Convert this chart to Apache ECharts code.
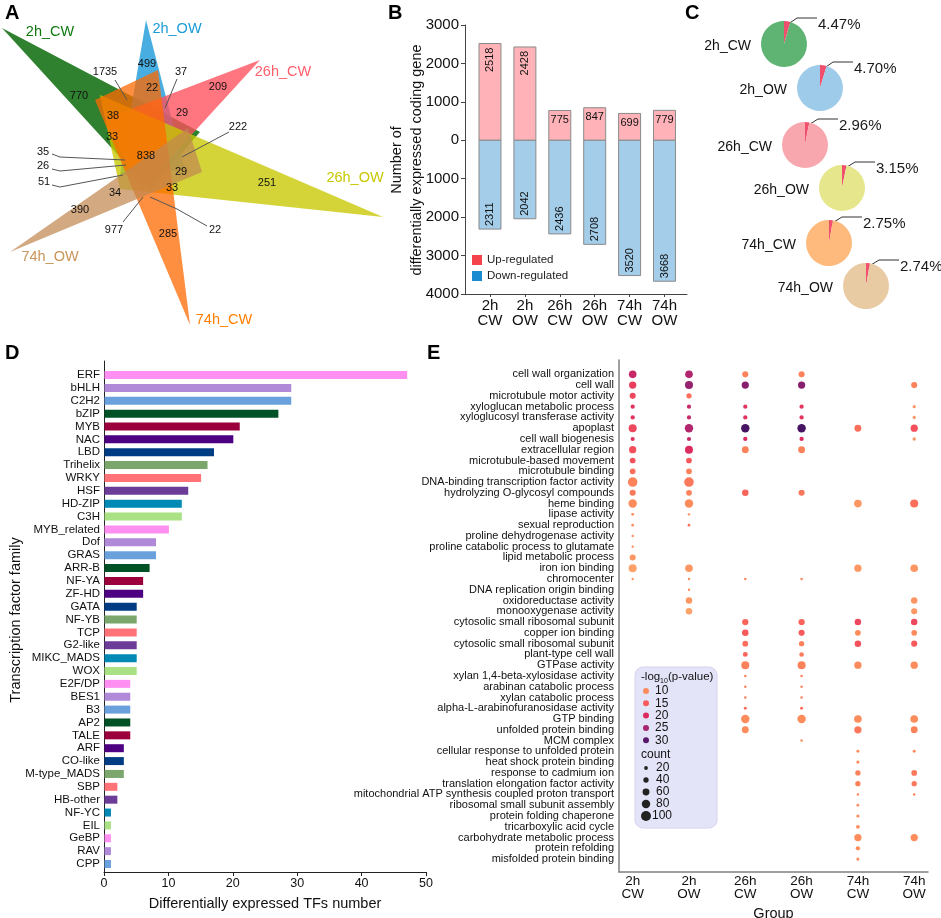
<!DOCTYPE html>
<html><head><meta charset="utf-8">
<script src="https://cdn.jsdelivr.net/npm/echarts@6/dist/echarts.min.js"></script>
<style>html,body{margin:0;padding:0;background:#fff}#c{width:941px;height:918px}</style>
</head><body><div id="c"></div>
<script>
const FONT = '"Liberation Sans", Arial, Helvetica, sans-serif';

// ---------- Panel A: six-set Venn ----------
const vennSets = ['2h_CW', '2h_OW', '26h_CW', '26h_OW', '74h_CW', '74h_OW'];
const vennCounts = [770, 499, 1735, 37, 22, 209, 38, 29, 222, 33, 838, 35, 26, 51, 29, 33, 251, 34, 390, 977, 22, 285];

// ---------- Panel B ----------
const barCategories = ['2h\nCW', '2h\nOW', '26h\nCW', '26h\nOW', '74h\nCW', '74h\nOW'];
const upRegulated = [2518, 2428, 775, 847, 699, 779];
const downRegulated = [2311, 2042, 2436, 2708, 3520, 3668];

// ---------- Panel C ----------
const pieGroups = ['2h_CW', '2h_OW', '26h_CW', '26h_OW', '74h_CW', '74h_OW'];
const pieTFPercent = [4.47, 4.70, 2.96, 3.15, 2.75, 2.74];

// ---------- Panel D ----------
const tfFamilies = ['ERF','bHLH','C2H2','bZIP','MYB','NAC','LBD','Trihelix','WRKY','HSF','HD-ZIP','C3H','MYB_related','Dof','GRAS','ARR-B','NF-YA','ZF-HD','GATA','NF-YB','TCP','G2-like','MIKC_MADS','WOX','E2F/DP','BES1','B3','AP2','TALE','ARF','CO-like','M-type_MADS','SBP','HB-other','NF-YC','EIL','GeBP','RAV','CPP'];
const tfCounts = [47,29,29,27,21,20,17,16,15,13,12,12,10,8,8,7,6,6,5,5,5,5,5,5,4,4,4,4,4,3,3,3,2,2,1,1,1,1,1];

// ---------- Panel E ----------
const goGroups = ['2h\nCW', '2h\nOW', '26h\nCW', '26h\nOW', '74h\nCW', '74h\nOW'];
const goTerms = ['cell wall organization','cell wall','microtubule motor activity','xyloglucan metabolic process','xyloglucosyl transferase activity','apoplast','cell wall biogenesis','extracellular region','microtubule-based movement','microtubule binding','DNA-binding transcription factor activity','hydrolyzing O-glycosyl compounds','heme binding','lipase activity','sexual reproduction','proline dehydrogenase activity','proline catabolic process to glutamate','lipid metabolic process','iron ion binding','chromocenter','DNA replication origin binding','oxidoreductase activity','monooxygenase activity','cytosolic small ribosomal subunit','copper ion binding','cytosolic small ribosomal subunit','plant-type cell wall','GTPase activity','xylan 1,4-beta-xylosidase activity','arabinan catabolic process','xylan catabolic process','alpha-L-arabinofuranosidase activity','GTP binding','unfolded protein binding','MCM complex','cellular response to unfolded protein','heat shock protein binding','response to cadmium ion','translation elongation factor activity','mitochondrial ATP synthesis coupled proton transport','ribosomal small subunit assembly','protein folding chaperone','tricarboxylic acid cycle','carbohydrate metabolic process','protein refolding','misfolded protein binding'];
// [term index, -log10(p), count]
const go2hCW = [[0,22,70],[1,18,65],[2,17,50],[3,19,27],[4,19,27],[5,17,75],[6,19,25],[7,16,65],[8,16,45],[9,13,45],[10,11,95],[11,12,50],[12,10,80],[13,10,8],[14,10,6],[15,10,2],[16,10,2],[17,9,50],[18,8,75],[19,9,2]];
const go2hOW = [[0,24,70],[1,26,75],[2,13,40],[3,22,25],[4,22,25],[5,24,80],[6,22,25],[7,20,75],[8,15,45],[9,11,45],[10,12,95],[11,11,45],[12,10,80],[13,10,3],[14,13,6],[18,9,70],[19,10,3],[20,10,2],[21,9,55],[22,8,55]];
const go26hCW = [[0,11,50],[1,27,65],[3,19,27],[4,19,27],[5,32,80],[6,20,27],[7,11,60],[11,14,55],[19,11,3],[23,14,53],[24,15,55],[25,13,45],[26,14,35],[27,11,75],[28,11,4],[29,11,4],[30,11,4],[31,13,10],[32,10,80],[33,10,60]];
const go26hOW = [[0,11,50],[1,27,65],[3,19,27],[4,19,27],[5,32,80],[6,20,27],[7,11,60],[11,12,50],[19,11,3],[23,14,53],[24,15,50],[25,11,40],[26,12,30],[27,11,75],[28,11,4],[29,11,4],[30,11,4],[31,13,10],[32,10,80],[34,10,3]];
const go74hCW = [[5,13,60],[12,9,70],[18,9,65],[23,17,55],[24,10,45],[25,16,55],[27,10,65],[32,10,70],[33,12,65],[35,10,10],[36,10,13],[37,11,40],[38,11,40],[39,10,4],[40,10,8],[41,10,12],[42,10,20],[43,10,65],[44,10,27],[45,10,12]];
const go74hOW = [[1,11,50],[3,9,12],[4,9,12],[5,16,65],[6,9,15],[12,13,75],[18,9,70],[21,9,55],[22,9,50],[23,17,55],[24,10,45],[25,15,50],[27,10,65],[32,10,70],[33,11,60],[35,10,10],[37,12,45],[38,12,40],[39,11,4],[43,10,65]];
const goColumns = [go2hCW, go2hOW, go26hCW, go26hOW, go74hCW, go74hOW];
const pLegendValues = [10, 15, 20, 25, 30];
const countLegendValues = [20, 40, 60, 80, 100];

// ---------- layout / style (not data) ----------
const vennColors = ['#0a6a0a', '#1a98d8', '#ff4f5c', '#c8c800', '#ff6a00', '#c08850'];
const vennOpacity = [0.85, 0.8, 0.78, 0.78, 0.75, 0.72];
const vennTextColors = ['#0e7a0e', '#1a9bd7', '#ff5f6a', '#c8c800', '#ff7f00', '#c8955a'];
const vennTriangles = [
  [[2,28],[200,132],[150,190]],
  [[146,20],[120,175],[185,170]],
  [[260,60],[105,119],[141,190]],
  [[383,217],[100,95],[120,189]],
  [[190,325],[95,100],[158,70]],
  [[10,252],[188,128],[202,172]]
];
const vennDrawOrder = [0, 1, 2, 3, 4, 5];
const vennSetLabelPos = [[50,32],[177,29],[283,72],[355,178],[224,320],[50,257]];
const vennCountPos = [[79,96],[147,64],[105,72],[181,72],[152,88],[218,87],[113,116],[182,113],[238,127],[112,137],[146,156],[43,152],[43,166],[44,182],[181,172],[172,188],[267,183],[115,193],[80,210],[114,230],[215,230],[168,234]];
const vennLeaders = {
  2: [[115,80],[127,100]],
  3: [[177,79],[165,108]],
  8: [[229,132],[182,157]],
  11: [[52,154],[60,157],[125,160]],
  12: [[52,169],[60,171],[126,165]],
  13: [[52,185],[60,187],[123,175]],
  19: [[123,222],[143,197]],
  20: [[207,226],[177,209],[150,197]]
};
const pieColors = ['#5fb474', '#9ecbea', '#f9a7ae', '#e6e68c', '#fdba7c', '#e8caa3'];
const pieCenters = [[784,44],[820,88],[805,145],[842,188],[829,243],[866,286]];
const tfPalette = ['#ff8ff0','#b08ad8','#6aa0dc','#005226','#9c003c','#4e0082','#003c84','#7ba66c','#ff7378','#6b3d98','#0089b5','#a9e184'];
const E_X_MIN = -0.243, E_X_MAX = 5.245;

const colorStops = [[7,'#fdad72'],[10,'#fc8c5b'],[15,'#f85a5b'],[20,'#dc2c5f'],[25,'#a62470'],[30,'#5a186a'],[33,'#3e1060']];
function hex2rgb(h){return [parseInt(h.substr(1,2),16),parseInt(h.substr(3,2),16),parseInt(h.substr(5,2),16)];}
function colorFor(v){
  if (v <= colorStops[0][0]) return colorStops[0][1];
  for (let i = 1; i < colorStops.length; i++) {
    if (v <= colorStops[i][0]) {
      const [a, ca] = colorStops[i-1], [b, cb] = colorStops[i];
      const t = (v - a) / (b - a), A = hex2rgb(ca), B = hex2rgb(cb);
      return 'rgb(' + A.map((x, k) => Math.round(x + (B[k] - x) * t)).join(',') + ')';
    }
  }
  return colorStops[colorStops.length-1][1];
}
function sizeFor(c){ return 2.2 + c * 0.078; }

const chart = echarts.init(document.getElementById('c'), null, {renderer: 'canvas'});

function txt(text, x, y, o) {
  return {type: 'text', x: x, y: y, style: Object.assign({text: text, fontFamily: FONT, fill: '#111', fontSize: 13}, o || {})};
}

// Panel B bar renderer
function barRenderer(isUp) {
  return function (params, api) {
    const i = api.value(0), v = api.value(1);
    const base = api.coord([i, 0]), end = api.coord([i, v]);
    const w = api.size([0.63, 0])[0];
    const val = Math.abs(v);
    const children = [{
      type: 'rect',
      shape: {x: base[0] - w / 2, y: Math.min(base[1], end[1]), width: w, height: Math.abs(end[1] - base[1])},
      style: {fill: isUp ? '#ffb3b8' : '#a3cde9', stroke: '#8a8a8a', lineWidth: 1}
    }];
    const ts = {text: String(val), fontFamily: FONT, fontSize: 11, fill: '#111'};
    if (val > 1000) {
      children.push({type: 'text', x: base[0], y: isUp ? end[1] + 4 : end[1] - 3, rotation: Math.PI / 2,
        style: Object.assign({}, ts, {align: isUp ? 'right' : 'left', verticalAlign: 'middle'})});
    } else {
      children.push({type: 'text', x: base[0], y: isUp ? end[1] + 4 : end[1] - 4,
        style: Object.assign({}, ts, {align: 'center', verticalAlign: isUp ? 'top' : 'bottom'})});
    }
    return {type: 'group', children: children};
  };
}

const series = [];

// Venn triangles
series.push({
  type: 'custom', xAxisIndex: 0, yAxisIndex: 0, silent: true,
  data: vennDrawOrder.map(k => [k, 0]),
  renderItem: function (params, api) {
    const k = api.value(0);
    return {type: 'polygon', shape: {points: vennTriangles[k].map(p => api.coord(p))},
      style: {fill: vennColors[k], opacity: vennOpacity[k]}};
  }
});
// Venn set labels
series.push({
  type: 'custom', xAxisIndex: 0, yAxisIndex: 0, silent: true,
  data: vennSets.map((s, k) => [k, 0]),
  renderItem: function (params, api) {
    const k = params.dataIndex, p = api.coord(vennSetLabelPos[k]);
    return {type: 'text', x: p[0], y: p[1], style: {text: vennSets[k], fill: vennTextColors[k], fontSize: 14.5, fontFamily: FONT, align: 'center', verticalAlign: 'middle'}};
  }
});
// Venn counts
series.push({
  type: 'custom', xAxisIndex: 0, yAxisIndex: 0, silent: true,
  data: vennCounts.map((c, i) => [i, c]),
  renderItem: function (params, api) {
    const i = params.dataIndex, p = api.coord(vennCountPos[i]);
    const children = [];
    if (vennLeaders[i]) children.push({type: 'polyline', shape: {points: vennLeaders[i].map(q => api.coord(q))}, style: {stroke: '#555', lineWidth: 1, fill: null}});
    children.push({type: 'text', x: p[0], y: p[1], style: {text: String(api.value(1)), fill: '#111', fontSize: 11, fontFamily: FONT, align: 'center', verticalAlign: 'middle'}});
    return {type: 'group', children: children};
  }
});

// Panel B bars
series.push({
  name: 'Up-regulated', type: 'custom', xAxisIndex: 1, yAxisIndex: 1, silent: true,
  itemStyle: {color: '#f4434b'},
  data: upRegulated.map((v, i) => [i, v]),
  renderItem: barRenderer(true)
});
series.push({
  name: 'Down-regulated', type: 'custom', xAxisIndex: 1, yAxisIndex: 1, silent: true,
  itemStyle: {color: '#1a8bd0'},
  data: downRegulated.map((v, i) => [i, -v]),
  renderItem: barRenderer(false)
});

// Panel C pies
pieGroups.forEach((g, k) => {
  const pct = pieTFPercent[k];
  const c = pieCenters[k];
  series.push({
    type: 'pie', center: c, radius: 23, startAngle: 90, clockwise: true, silent: true,
    avoidLabelOverlap: false, animation: false,
    data: [
      {value: pct, name: g + ' TF', itemStyle: {color: '#f0506e'},
        label: {show: true, formatter: pct.toFixed(2) + '%'}, labelLine: {show: true}},
      {value: 100 - pct, name: g + ' other', itemStyle: {color: pieColors[k]}, label: {show: false}, labelLine: {show: false}}
    ],
    label: {position: 'outside', fontSize: 15, color: '#1a1a1a', fontFamily: FONT},
    labelLine: {length: 6, length2: 20, lineStyle: {color: '#333', width: 1}},
    labelLayout: function (params) {
      const r = 23;
      const mid = (90 - pct / 100 * 180) * Math.PI / 180;
      const sx = c[0] + 0.83 * r * Math.cos(mid), sy = c[1] - 0.83 * r * Math.sin(mid);
      return {
        x: c[0] + 34, y: c[1] - 19, align: 'left', verticalAlign: 'middle',
        labelLinePoints: [[sx, sy], [c[0] + 13, c[1] - 26], [c[0] + 33, c[1] - 26]]
      };
    }
  });
});

// Panel D bars
series.push({
  type: 'custom', xAxisIndex: 2, yAxisIndex: 2, silent: true,
  data: tfCounts.map((v, i) => [v, i]),
  renderItem: function (params, api) {
    const v = api.value(0), i = api.value(1);
    const a = api.coord([0, i]), b = api.coord([v, i]);
    return {type: 'rect', shape: {x: a[0] + 0.5, y: a[1] - 4, width: b[0] - a[0], height: 8},
      style: {fill: tfPalette[params.dataIndex % tfPalette.length]}};
  }
});

// Panel E term labels (drawn through the y scale)
series.push({
  type: 'custom', xAxisIndex: 3, yAxisIndex: 3, silent: true,
  data: goTerms.map((t, i) => [E_X_MIN, i]),
  renderItem: function (params, api) {
    const p = api.coord([api.value(0), api.value(1)]);
    return {type: 'text', x: p[0] - 5, y: p[1], style: {text: goTerms[params.dataIndex], fontFamily: FONT, fontSize: 11, fill: '#111', align: 'right', verticalAlign: 'middle'}};
  }
});

// Panel E dots
const eData = [];
goColumns.forEach((col, j) => col.forEach(d => eData.push([j, d[0], d[1], d[2]])));
series.push({
  type: 'scatter', xAxisIndex: 3, yAxisIndex: 3, silent: true,
  data: eData,
  symbolSize: function (v) { return sizeFor(v[3]); },
  itemStyle: {color: function (p) { return colorFor(p.value[2]); }, opacity: 1}
});

// E legend graphic
const eLeg = [{type: 'rect', shape: {x: 635, y: 667, width: 82, height: 161, r: 8}, style: {fill: '#e4e4f8', stroke: '#d4d4ee', lineWidth: 1}}];
eLeg.push(txt('-log', 641, 677, {fontSize: 11.5, verticalAlign: 'middle'}));
eLeg.push(txt('10', 660, 681, {fontSize: 7, verticalAlign: 'middle'}));
eLeg.push(txt('(p-value)', 668, 677, {fontSize: 11.5, verticalAlign: 'middle'}));
pLegendValues.forEach((v, i) => {
  const y = 691 + i * 12.3;
  eLeg.push({type: 'circle', shape: {cx: 646, cy: y, r: 3}, style: {fill: colorFor(v)}});
  eLeg.push(txt(String(v), 655, y, {fontSize: 12, verticalAlign: 'middle'}));
});
eLeg.push(txt('count', 641, 755, {fontSize: 12, verticalAlign: 'middle'}));
countLegendValues.forEach((v, i) => {
  const y = 768 + i * 12;
  eLeg.push({type: 'circle', shape: {cx: 646, cy: y, r: sizeFor(v) / 2}, style: {fill: '#222'}});
  eLeg.push(txt(String(v), v === 100 ? 652 : 656, y, {fontSize: 12, verticalAlign: 'middle'}));
});

const graphic = [
  txt('A', 5, 3, {fontSize: 20, fontWeight: 'bold', fill: '#000'}),
  txt('B', 388, 3, {fontSize: 20, fontWeight: 'bold', fill: '#000'}),
  txt('C', 685, 3, {fontSize: 20, fontWeight: 'bold', fill: '#000'}),
  txt('D', 5, 343, {fontSize: 20, fontWeight: 'bold', fill: '#000'}),
  txt('E', 427, 343, {fontSize: 20, fontWeight: 'bold', fill: '#000'}),
  {type: 'text', x: 407, y: 160, rotation: Math.PI / 2,
    style: {text: 'Number of\ndifferentially expressed coding gene', fontFamily: FONT, fontSize: 14.5, lineHeight: 20, fill: '#111', align: 'center', verticalAlign: 'middle'}},
  {type: 'text', x: 16, y: 620, rotation: Math.PI / 2,
    style: {text: 'Transcription factor family', fontFamily: FONT, fontSize: 14.5, fill: '#111', align: 'center', verticalAlign: 'middle'}},
  {type: 'group', children: eLeg}
];
pieGroups.forEach((g, k) => {
  graphic.push(txt(g, pieCenters[k][0] - 33, pieCenters[k][1] + 2, {fontSize: 14, align: 'right', verticalAlign: 'middle'}));
});

const seq = n => Array.from({length: n}, (_, i) => i);

const option = {
  animation: false,
  backgroundColor: '#fff',
  textStyle: {fontFamily: FONT},
  legend: {
    data: ['Up-regulated', 'Down-regulated'], left: 472, top: 254, orient: 'vertical',
    itemWidth: 10, itemHeight: 10, itemGap: 4, icon: 'rect', padding: 0, selectedMode: false,
    textStyle: {fontSize: 11.5, color: '#222', fontFamily: FONT, padding: [0, 0, 0, 0]}
  },
  grid: [
    {left: 0, top: 0, width: 400, height: 330, outerBoundsMode: 'none', containLabel: false},
    {left: 465, top: 25, width: 222, height: 269, outerBoundsMode: 'none', containLabel: false},
    {left: 104, top: 361, width: 322, height: 511, outerBoundsMode: 'none', containLabel: false},
    {left: 619, top: 360, width: 309, height: 512, outerBoundsMode: 'none', containLabel: false}
  ],
  xAxis: [
    {gridIndex: 0, type: 'value', min: 0, max: 400, show: false},
    {gridIndex: 1, type: 'value', min: -0.716, max: 5.645,
      axisLine: {show: true, onZero: false, lineStyle: {color: '#444'}}, splitLine: {show: false},
      axisTick: {show: true, customValues: seq(6), length: 3, lineStyle: {color: '#444'}},
      axisLabel: {customValues: seq(6), showMinLabel: true, showMaxLabel: true, formatter: v => barCategories[v], fontSize: 15, lineHeight: 15, color: '#111', margin: 4, fontFamily: FONT}},
    {gridIndex: 2, type: 'value', min: 0, max: 50, interval: 10,
      axisLine: {show: true, onZero: false, lineStyle: {color: '#222'}}, splitLine: {show: false},
      axisTick: {show: true, length: 4, lineStyle: {color: '#222'}},
      axisLabel: {showMinLabel: true, showMaxLabel: true, fontSize: 12.5, color: '#111', margin: 5, fontFamily: FONT},
      name: 'Differentially expressed TFs number', nameLocation: 'middle', nameGap: 24,
      nameTextStyle: {fontSize: 14.5, color: '#111', fontFamily: FONT}},
    {gridIndex: 3, type: 'value', min: E_X_MIN, max: E_X_MAX,
      axisLine: {show: true, onZero: false, lineStyle: {color: '#808080', width: 1.5}}, splitLine: {show: false},
      axisTick: {show: false},
      axisLabel: {customValues: seq(6), showMinLabel: true, showMaxLabel: true, formatter: v => goGroups[v], fontSize: 13.5, lineHeight: 13, color: '#111', margin: 3, fontFamily: FONT},
      name: 'Group', nameLocation: 'middle', nameGap: 29,
      nameTextStyle: {fontSize: 14.5, color: '#111', fontFamily: FONT}}
  ],
  yAxis: [
    {gridIndex: 0, type: 'value', min: 0, max: 330, inverse: true, show: false},
    {gridIndex: 1, type: 'value', min: -4000, max: 3000, interval: 1000,
      axisLine: {show: true, onZero: false, lineStyle: {color: '#444'}}, splitLine: {show: false},
      axisTick: {show: true, length: 4, lineStyle: {color: '#444'}},
      axisLabel: {showMinLabel: true, showMaxLabel: true, formatter: v => String(Math.abs(v)), fontSize: 15, color: '#111', margin: 6, fontFamily: FONT}},
    {gridIndex: 2, type: 'value', min: -1.09, max: 38.62, inverse: true,
      axisLine: {show: true, onZero: false, lineStyle: {color: '#222'}}, splitLine: {show: false},
      axisTick: {show: false},
      axisLabel: {customValues: seq(tfFamilies.length), showMinLabel: true, showMaxLabel: true, hideOverlap: false, formatter: v => tfFamilies[v], fontSize: 11.5, lineHeight: 11, color: '#111', margin: 4, fontFamily: FONT}},
    {gridIndex: 3, type: 'value', min: -1.33, max: 46.2, inverse: true,
      axisLine: {show: true, onZero: false, lineStyle: {color: '#808080', width: 1.5}}, splitLine: {show: false},
      axisTick: {show: false},
      axisLabel: {show: false}}
  ],
  graphic: graphic,
  series: series
};
chart.setOption(option);
</script>
</body></html>
